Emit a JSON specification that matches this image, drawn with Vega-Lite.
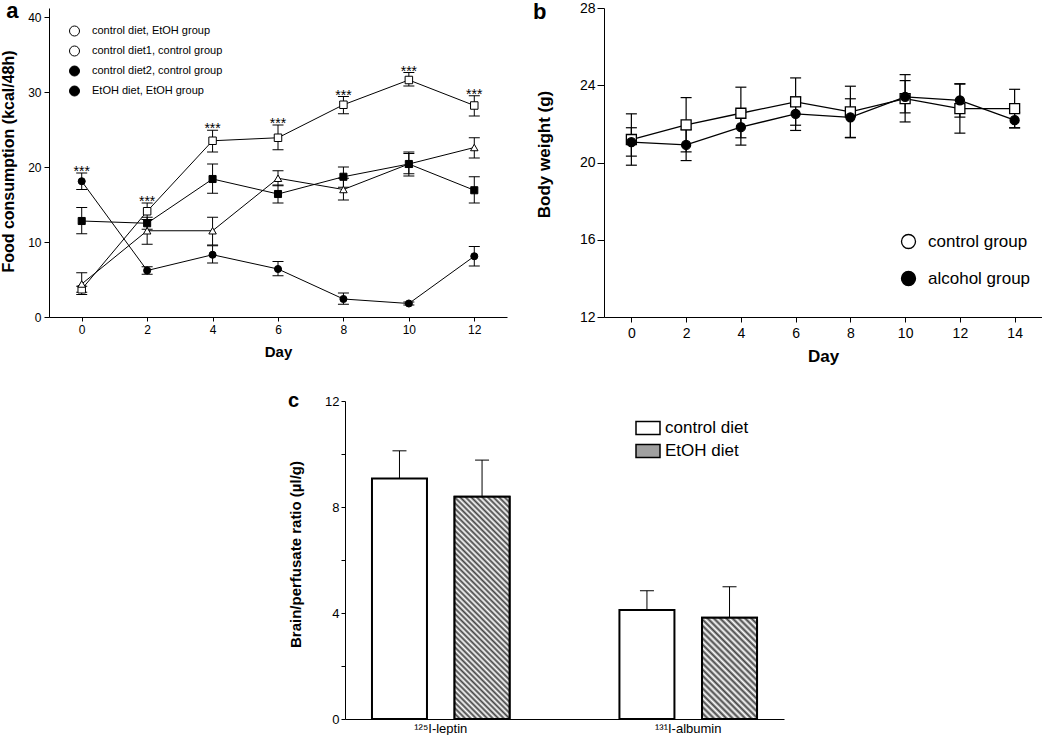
{
 "$schema": "https://vega.github.io/schema/vega-lite/v6.json",
 "background": "white",
 "padding": 0,
 "autosize": {"type": "pad"},
 "spacing": 27,
 "resolve": {"scale": {"shape": "independent", "fill": "independent", "color": "independent"}, "legend": {"shape": "independent", "fill": "independent"}},
 "datasets": {
  "food": [
   {"day":0,"grp":"control diet, EtOH group","v":3.7,"lo":3.3,"hi":4.1,"star":""},
   {"day":2,"grp":"control diet, EtOH group","v":14.1,"lo":13.0,"hi":15.2,"star":"***"},
   {"day":4,"grp":"control diet, EtOH group","v":23.5,"lo":22.0,"hi":24.9,"star":"***"},
   {"day":6,"grp":"control diet, EtOH group","v":23.9,"lo":22.3,"hi":25.6,"star":"***"},
   {"day":8,"grp":"control diet, EtOH group","v":28.3,"lo":27.1,"hi":29.4,"star":"***"},
   {"day":10,"grp":"control diet, EtOH group","v":31.6,"lo":30.8,"hi":32.6,"star":"***"},
   {"day":12,"grp":"control diet, EtOH group","v":28.2,"lo":26.8,"hi":29.5,"star":"***"},
   {"day":0,"grp":"control diet1, control group","v":4.4,"lo":3.0,"hi":5.9,"star":""},
   {"day":2,"grp":"control diet1, control group","v":11.5,"lo":9.7,"hi":13.0,"star":""},
   {"day":4,"grp":"control diet1, control group","v":11.5,"lo":9.6,"hi":13.3,"star":""},
   {"day":6,"grp":"control diet1, control group","v":18.5,"lo":17.5,"hi":19.5,"star":""},
   {"day":8,"grp":"control diet1, control group","v":17.0,"lo":15.6,"hi":18.5,"star":""},
   {"day":10,"grp":"control diet1, control group","v":20.4,"lo":18.8,"hi":22.0,"star":""},
   {"day":12,"grp":"control diet1, control group","v":22.6,"lo":21.2,"hi":23.9,"star":""},
   {"day":0,"grp":"control diet2, control group","v":12.8,"lo":11.1,"hi":14.6,"star":""},
   {"day":2,"grp":"control diet2, control group","v":12.5,"lo":11.7,"hi":13.3,"star":""},
   {"day":4,"grp":"control diet2, control group","v":18.4,"lo":16.5,"hi":20.4,"star":""},
   {"day":6,"grp":"control diet2, control group","v":16.4,"lo":15.2,"hi":17.6,"star":""},
   {"day":8,"grp":"control diet2, control group","v":18.7,"lo":17.3,"hi":20.0,"star":""},
   {"day":10,"grp":"control diet2, control group","v":20.4,"lo":19.1,"hi":21.8,"star":""},
   {"day":12,"grp":"control diet2, control group","v":16.9,"lo":15.2,"hi":18.7,"star":""},
   {"day":0,"grp":"EtOH diet, EtOH group","v":18.1,"lo":17.0,"hi":19.2,"star":"***"},
   {"day":2,"grp":"EtOH diet, EtOH group","v":6.2,"lo":5.7,"hi":6.7,"star":""},
   {"day":4,"grp":"EtOH diet, EtOH group","v":8.3,"lo":7.2,"hi":9.5,"star":""},
   {"day":6,"grp":"EtOH diet, EtOH group","v":6.4,"lo":5.5,"hi":7.4,"star":""},
   {"day":8,"grp":"EtOH diet, EtOH group","v":2.4,"lo":1.7,"hi":3.2,"star":""},
   {"day":10,"grp":"EtOH diet, EtOH group","v":1.8,"lo":1.6,"hi":2.0,"star":""},
   {"day":12,"grp":"EtOH diet, EtOH group","v":8.1,"lo":6.8,"hi":9.4,"star":""}
  ],
  "weight": [
   {"day":0,"grp":"control group","v":21.19,"lo":19.86,"hi":22.52},
   {"day":2,"grp":"control group","v":21.95,"lo":20.55,"hi":23.36},
   {"day":4,"grp":"control group","v":22.55,"lo":21.28,"hi":23.9},
   {"day":6,"grp":"control group","v":23.14,"lo":21.93,"hi":24.38},
   {"day":8,"grp":"control group","v":22.62,"lo":21.3,"hi":23.95},
   {"day":10,"grp":"control group","v":23.31,"lo":22.1,"hi":24.55},
   {"day":12,"grp":"control group","v":22.79,"lo":21.52,"hi":24.06},
   {"day":14,"grp":"control group","v":22.79,"lo":21.8,"hi":23.79},
   {"day":0,"grp":"alcohol group","v":21.05,"lo":20.33,"hi":21.8},
   {"day":2,"grp":"alcohol group","v":20.91,"lo":20.1,"hi":21.7},
   {"day":4,"grp":"alcohol group","v":21.83,"lo":20.9,"hi":22.7},
   {"day":6,"grp":"alcohol group","v":22.52,"lo":21.66,"hi":23.4},
   {"day":8,"grp":"alcohol group","v":22.34,"lo":21.28,"hi":23.3},
   {"day":10,"grp":"alcohol group","v":23.4,"lo":22.57,"hi":24.24},
   {"day":12,"grp":"alcohol group","v":23.22,"lo":22.35,"hi":24.08},
   {"day":14,"grp":"alcohol group","v":22.19,"lo":21.79,"hi":22.6}
  ],
  "ratio": [
   {"tracer":"¹²⁵I-leptin","diet":"control diet","v":9.08,"hi":10.12},
   {"tracer":"¹²⁵I-leptin","diet":"EtOH diet","v":8.39,"hi":9.77},
   {"tracer":"¹³¹I-albumin","diet":"control diet","v":4.11,"hi":4.84},
   {"tracer":"¹³¹I-albumin","diet":"EtOH diet","v":3.82,"hi":4.99}
  ]
 },
 "vconcat": [
  {
   "spacing": 26,
   "resolve": {"scale": {"shape": "independent", "fill": "independent", "color": "independent"}, "legend": {"shape": "independent", "fill": "independent"}},
   "hconcat": [
    {
     "width": 458, "height": 309,
     "data": {"name": "food"},
     "layer": [
      {
       "encoding": {"x": {"field": "day", "type": "quantitative", "title": "Day", "scale": {"domain": [-1, 13], "nice": false, "zero": false}, "axis": {"values": [0,1,2,3,4,5,6,7,8,9,10,11,12,13], "labelExpr": "datum.value % 2 === 0 ? datum.label : ''", "tickSize": 4, "labelFontSize": 12, "labelPadding": 3, "titleFontSize": 15, "titlePadding": 9}}},
       "layer": [
        {"mark": {"type": "line", "color": "black", "strokeWidth": 1}, "encoding": {"y": {"field": "v", "type": "quantitative", "title": "Food consumption (kcal/48h)", "scale": {"domain": [0, 41.2], "nice": false}, "axis": {"values": [0,10,20,30,40], "tickSize": 5, "labelPadding": 3, "labelFontSize": 12, "titleFontSize": 16, "titlePadding": 11, "titleY": 153}}, "detail": {"field": "grp", "type": "nominal"}, "order": {"field": "day", "type": "quantitative"}}},
        {"mark": {"type": "rule", "color": "black", "strokeWidth": 1}, "encoding": {"y": {"field": "lo", "type": "quantitative", "title": "Food consumption (kcal/48h)"}, "y2": {"field": "hi"}}},
        {"mark": {"type": "tick", "orient": "horizontal", "size": 11, "thickness": 1, "color": "black", "opacity": 1}, "encoding": {"y": {"field": "lo", "type": "quantitative", "title": "Food consumption (kcal/48h)"}}},
        {"mark": {"type": "tick", "orient": "horizontal", "size": 11, "thickness": 1, "color": "black", "opacity": 1}, "encoding": {"y": {"field": "hi", "type": "quantitative", "title": "Food consumption (kcal/48h)"}}},
        {"transform": [{"filter": "datum.grp === 'control diet, EtOH group'"}], "mark": {"type": "point", "shape": "square", "filled": true, "fill": "white", "stroke": "black", "strokeWidth": 1, "opacity": 1, "fillOpacity": 1, "size": 56}, "encoding": {"y": {"field": "v", "type": "quantitative", "title": "Food consumption (kcal/48h)"}}},
        {"transform": [{"filter": "datum.grp === 'control diet1, control group'"}], "mark": {"type": "point", "shape": "triangle-up", "filled": true, "fill": "white", "stroke": "black", "strokeWidth": 1, "opacity": 1, "fillOpacity": 1, "size": 56}, "encoding": {"y": {"field": "v", "type": "quantitative", "title": "Food consumption (kcal/48h)"}}},
        {"transform": [{"filter": "datum.grp === 'control diet2, control group'"}], "mark": {"type": "point", "shape": "square", "filled": true, "fill": "black", "stroke": "black", "strokeWidth": 1, "opacity": 1, "fillOpacity": 1, "size": 50}, "encoding": {"y": {"field": "v", "type": "quantitative", "title": "Food consumption (kcal/48h)"}}},
        {"transform": [{"filter": "datum.grp === 'EtOH diet, EtOH group'"}], "mark": {"type": "point", "shape": "circle", "stroke": "black", "strokeWidth": 1, "opacity": 1, "fillOpacity": 1, "size": 50}, "encoding": {
          "y": {"field": "v", "type": "quantitative", "title": "Food consumption (kcal/48h)"},
          "fill": {"field": "grp", "type": "nominal", "scale": {"domain": ["control diet, EtOH group", "control diet1, control group", "control diet2, control group", "EtOH diet, EtOH group"], "range": ["white", "white", "black", "black"]},
            "legend": {"title": null, "orient": "none", "legendX": 20, "legendY": 17.5, "padding": 0, "symbolSize": 100, "symbolStrokeWidth": 1, "symbolStrokeColor": "black", "labelFontSize": 11, "labelOffset": 12, "rowPadding": 5, "labelLimit": 400,
              "encode": {"symbols": {"update": {"stroke": {"value": "black"}, "strokeWidth": {"value": 1}, "opacity": {"value": 1},
                "shape": [{"test": "datum.label === 'control diet, EtOH group' || datum.label === 'control diet2, control group'", "value": "M-2.3,0H-0.75M0.75,0H2.3M-0.75,-0.75H0.75V0.75H-0.75Z"}, {"test": "datum.label === 'control diet1, control group'", "value": "M-2.3,0H-0.5M0.5,0H2.3M0,-0.85L0.85,0.65H-0.85Z"}, {"value": "M-2.3,0H2.3M0.7,0A0.7,0.7,0,1,1,-0.7,0A0.7,0.7,0,1,1,0.7,0Z"}]}}}}}
        }},
        {"mark": {"type": "text", "fontSize": 14, "baseline": "alphabetic", "dy": 3, "color": "black"}, "encoding": {"y": {"field": "hi", "type": "quantitative", "title": "Food consumption (kcal/48h)"}, "text": {"field": "star", "type": "nominal"}}}
       ]
      },
      {"data": {"values": [{"lab": "a"}]}, "mark": {"type": "text", "fontSize": 22, "fontWeight": "bold", "align": "left", "baseline": "top", "color": "black"}, "encoding": {"x": {"datum": -2.31, "type": "quantitative", "title": "Day"}, "y": {"datum": 42.13, "type": "quantitative", "title": "Food consumption (kcal/48h)"}, "text": {"field": "lab", "type": "nominal"}}}
     ]
    },
    {
     "width": 438, "height": 309,
     "data": {"name": "weight"},
     "layer": [
      {
       "encoding": {"x": {"field": "day", "type": "quantitative", "title": "Day", "scale": {"domain": [-1, 15], "nice": false, "zero": false}, "axis": {"values": [0,1,2,3,4,5,6,7,8,9,10,11,12,13,14,15], "labelExpr": "datum.value % 2 === 0 ? datum.label : ''", "tickSize": 5, "labelFontSize": 14, "labelPadding": 4, "titleFontSize": 17, "titlePadding": 8}}},
       "layer": [
        {"mark": {"type": "line", "color": "black", "strokeWidth": 1.3}, "encoding": {"y": {"field": "v", "type": "quantitative", "title": "Body weight (g)", "scale": {"domain": [12, 28], "nice": false, "zero": false}, "axis": {"values": [12,16,20,24,28], "tickSize": 7, "labelPadding": 2, "labelFontSize": 14, "titleFontSize": 17, "titlePadding": 26, "titleY": 146}}, "detail": {"field": "grp", "type": "nominal"}, "order": {"field": "day", "type": "quantitative"}}},
        {"mark": {"type": "rule", "color": "black", "strokeWidth": 1.2}, "encoding": {"y": {"field": "lo", "type": "quantitative", "title": "Body weight (g)"}, "y2": {"field": "hi"}}},
        {"mark": {"type": "tick", "orient": "horizontal", "size": 11, "thickness": 1.2, "color": "black", "opacity": 1}, "encoding": {"y": {"field": "lo", "type": "quantitative", "title": "Body weight (g)"}}},
        {"mark": {"type": "tick", "orient": "horizontal", "size": 11, "thickness": 1.2, "color": "black", "opacity": 1}, "encoding": {"y": {"field": "hi", "type": "quantitative", "title": "Body weight (g)"}}},
        {"transform": [{"filter": "datum.grp === 'control group'"}], "mark": {"type": "point", "shape": "square", "filled": true, "fill": "white", "stroke": "black", "strokeWidth": 1.3, "opacity": 1, "fillOpacity": 1, "size": 100}, "encoding": {"y": {"field": "v", "type": "quantitative", "title": "Body weight (g)"}}},
        {"transform": [{"filter": "datum.grp === 'alcohol group'"}], "mark": {"type": "point", "shape": "circle", "stroke": "black", "strokeWidth": 1.3, "opacity": 1, "fillOpacity": 1, "size": 81}, "encoding": {
          "y": {"field": "v", "type": "quantitative", "title": "Body weight (g)"},
          "fill": {"field": "grp", "type": "nominal", "scale": {"domain": ["control group", "alcohol group"], "range": ["white", "black"]},
            "legend": {"title": null, "orient": "none", "legendX": 296, "legendY": 225, "padding": 0, "symbolSize": 196, "symbolStrokeWidth": 1.3, "symbolStrokeColor": "black", "labelFontSize": 17, "labelOffset": 11, "rowPadding": 16,
              "encode": {"symbols": {"update": {"stroke": {"value": "black"}, "strokeWidth": {"value": 1.3}, "opacity": {"value": 1},
                "shape": [{"test": "datum.label === 'control group'", "value": "M-2.07,0H-0.64M0.64,0H2.07M-0.64,-0.64H0.64V0.64H-0.64Z"}, {"value": "M-2.07,0H2.07M0.6,0A0.6,0.6,0,1,1,-0.6,0A0.6,0.6,0,1,1,0.6,0Z"}]}}}}}
        }}
       ]
      },
      {"data": {"values": [{"lab": "b"}]}, "mark": {"type": "text", "fontSize": 22, "fontWeight": "bold", "align": "left", "baseline": "top", "color": "black"}, "encoding": {"x": {"datum": -3.59, "type": "quantitative", "title": "Day"}, "y": {"datum": 28.31, "type": "quantitative", "title": "Body weight (g)"}, "text": {"field": "lab", "type": "nominal"}}}
     ]
    }
   ]
  },
  {
   "spacing": 0,
   "resolve": {"scale": {"shape": "independent", "fill": "independent", "color": "independent"}, "legend": {"shape": "independent", "fill": "independent"}},
   "hconcat": [
    {"width": 238, "height": 1, "data": {"values": []}, "mark": "point", "encoding": {}},
    {
     "width": 439, "height": 318,
     "data": {"name": "ratio"},
     "resolve": {"scale": {"x": "independent"}, "axis": {"x": "independent"}},
     "layer": [
      {
       "encoding": {
        "x": {"field": "tracer", "type": "nominal", "scale": {"domain": ["¹²⁵I-leptin", "¹³¹I-albumin"], "paddingInner": 0.444, "paddingOuter": 0.109}, "axis": {"title": null, "labelAngle": 0, "ticks": false, "labelFontSize": 13, "labelPadding": 3}},
        "xOffset": {"field": "diet", "type": "nominal", "scale": {"domain": ["control diet", "EtOH diet"], "paddingInner": 0.334, "paddingOuter": 0}}
       },
       "layer": [
        {"mark": {"type": "bar", "stroke": "black", "strokeWidth": 2}, "encoding": {
          "y": {"field": "v", "type": "quantitative", "title": "Brain/perfusate ratio (µl/g)", "scale": {"domain": [0, 12], "nice": false}, "axis": {"values": [0,2,4,6,8,10,12], "labelExpr": "datum.value % 4 === 0 ? datum.label : ''", "tickSize": 4, "labelPadding": 2, "labelFontSize": 13, "titleFontSize": 15, "titlePadding": 21, "titleY": 153}},
          "fill": {"field": "diet", "type": "nominal", "scale": {"domain": ["control diet", "EtOH diet"], "range": ["white", "#a0a0a0"]},
            "legend": {"title": null, "orient": "none", "legendX": 290, "legendY": 14, "padding": 0, "symbolSize": 576, "symbolStrokeWidth": 1.5, "symbolStrokeColor": "black", "labelFontSize": 17, "labelOffset": 4, "rowPadding": -1,
              "encode": {"symbols": {"update": {"stroke": {"value": "black"}, "strokeWidth": {"value": 1.5}, "shape": {"value": "M-1,-0.54H1V0.54H-1Z"}, "fill": [{"test": "datum.label === 'EtOH diet'", "value": {"gradient": "linear", "x1": 0, "y1": 1, "x2": 1.192, "y2": 0.3543, "stops": [{"offset":0,"color":"#444"},{"offset":0.075,"color":"#fff"},{"offset":0.15,"color":"#444"},{"offset":0.225,"color":"#fff"},{"offset":0.3,"color":"#444"},{"offset":0.375,"color":"#fff"},{"offset":0.45,"color":"#444"},{"offset":0.525,"color":"#fff"},{"offset":0.6,"color":"#444"},{"offset":0.675,"color":"#fff"},{"offset":0.75,"color":"#444"},{"offset":0.825,"color":"#fff"},{"offset":0.9,"color":"#444"},{"offset":0.975,"color":"#fff"},{"offset":1,"color":"#aaa"}]}}, {"value": "white"}]}}}}}
        }},
        {"transform": [{"filter": "datum.diet === 'EtOH diet' && indexof(datum.tracer, 'leptin') >= 0"}],
         "mark": {"type": "bar", "stroke": "black", "strokeWidth": 2, "fill": {"gradient": "linear", "x1": 0, "y1": 1, "x2": 0.2908, "y2": -0.1754, "stops": [{"offset":0,"color":"#444"},{"offset":0.01,"color":"#fff"},{"offset":0.02,"color":"#444"},{"offset":0.03,"color":"#fff"},{"offset":0.04,"color":"#444"},{"offset":0.05,"color":"#fff"},{"offset":0.06,"color":"#444"},{"offset":0.07,"color":"#fff"},{"offset":0.08,"color":"#444"},{"offset":0.09,"color":"#fff"},{"offset":0.1,"color":"#444"},{"offset":0.11,"color":"#fff"},{"offset":0.12,"color":"#444"},{"offset":0.13,"color":"#fff"},{"offset":0.14,"color":"#444"},{"offset":0.15,"color":"#fff"},{"offset":0.16,"color":"#444"},{"offset":0.17,"color":"#fff"},{"offset":0.18,"color":"#444"},{"offset":0.19,"color":"#fff"},{"offset":0.2,"color":"#444"},{"offset":0.21,"color":"#fff"},{"offset":0.22,"color":"#444"},{"offset":0.23,"color":"#fff"},{"offset":0.24,"color":"#444"},{"offset":0.25,"color":"#fff"},{"offset":0.26,"color":"#444"},{"offset":0.27,"color":"#fff"},{"offset":0.28,"color":"#444"},{"offset":0.29,"color":"#fff"},{"offset":0.3,"color":"#444"},{"offset":0.31,"color":"#fff"},{"offset":0.32,"color":"#444"},{"offset":0.33,"color":"#fff"},{"offset":0.34,"color":"#444"},{"offset":0.35,"color":"#fff"},{"offset":0.36,"color":"#444"},{"offset":0.37,"color":"#fff"},{"offset":0.38,"color":"#444"},{"offset":0.39,"color":"#fff"},{"offset":0.4,"color":"#444"},{"offset":0.41,"color":"#fff"},{"offset":0.42,"color":"#444"},{"offset":0.43,"color":"#fff"},{"offset":0.44,"color":"#444"},{"offset":0.45,"color":"#fff"},{"offset":0.46,"color":"#444"},{"offset":0.47,"color":"#fff"},{"offset":0.48,"color":"#444"},{"offset":0.49,"color":"#fff"},{"offset":0.5,"color":"#444"},{"offset":0.51,"color":"#fff"},{"offset":0.52,"color":"#444"},{"offset":0.53,"color":"#fff"},{"offset":0.54,"color":"#444"},{"offset":0.55,"color":"#fff"},{"offset":0.56,"color":"#444"},{"offset":0.57,"color":"#fff"},{"offset":0.58,"color":"#444"},{"offset":0.59,"color":"#fff"},{"offset":0.6,"color":"#444"},{"offset":0.61,"color":"#fff"},{"offset":0.62,"color":"#444"},{"offset":0.63,"color":"#fff"},{"offset":0.64,"color":"#444"},{"offset":0.65,"color":"#fff"},{"offset":0.66,"color":"#444"},{"offset":0.67,"color":"#fff"},{"offset":0.68,"color":"#444"},{"offset":0.69,"color":"#fff"},{"offset":0.7,"color":"#444"},{"offset":0.71,"color":"#fff"},{"offset":0.72,"color":"#444"},{"offset":0.73,"color":"#fff"},{"offset":0.74,"color":"#444"},{"offset":0.75,"color":"#fff"},{"offset":0.76,"color":"#444"},{"offset":0.77,"color":"#fff"},{"offset":0.78,"color":"#444"},{"offset":0.79,"color":"#fff"},{"offset":0.8,"color":"#444"},{"offset":0.81,"color":"#fff"},{"offset":0.82,"color":"#444"},{"offset":0.83,"color":"#fff"},{"offset":0.84,"color":"#444"},{"offset":0.85,"color":"#fff"},{"offset":0.86,"color":"#444"},{"offset":0.87,"color":"#fff"},{"offset":0.88,"color":"#444"},{"offset":0.89,"color":"#fff"},{"offset":0.9,"color":"#444"},{"offset":0.91,"color":"#fff"},{"offset":0.92,"color":"#444"},{"offset":0.93,"color":"#fff"},{"offset":0.94,"color":"#444"},{"offset":0.95,"color":"#fff"},{"offset":0.96,"color":"#444"},{"offset":0.97,"color":"#fff"},{"offset":0.98,"color":"#444"},{"offset":0.99,"color":"#fff"},{"offset":1,"color":"#444"}]}},
         "encoding": {"y": {"field": "v", "type": "quantitative", "title": "Brain/perfusate ratio (µl/g)"}}},
        {"transform": [{"filter": "datum.diet === 'EtOH diet' && indexof(datum.tracer, 'albumin') >= 0"}],
         "mark": {"type": "bar", "stroke": "black", "strokeWidth": 2, "fill": {"gradient": "linear", "x1": 0, "y1": 1, "x2": 0.6475, "y2": -0.1914, "stops": [{"offset":0,"color":"#444"},{"offset":0.02,"color":"#fff"},{"offset":0.04,"color":"#444"},{"offset":0.06,"color":"#fff"},{"offset":0.08,"color":"#444"},{"offset":0.1,"color":"#fff"},{"offset":0.12,"color":"#444"},{"offset":0.14,"color":"#fff"},{"offset":0.16,"color":"#444"},{"offset":0.18,"color":"#fff"},{"offset":0.2,"color":"#444"},{"offset":0.22,"color":"#fff"},{"offset":0.24,"color":"#444"},{"offset":0.26,"color":"#fff"},{"offset":0.28,"color":"#444"},{"offset":0.3,"color":"#fff"},{"offset":0.32,"color":"#444"},{"offset":0.34,"color":"#fff"},{"offset":0.36,"color":"#444"},{"offset":0.38,"color":"#fff"},{"offset":0.4,"color":"#444"},{"offset":0.42,"color":"#fff"},{"offset":0.44,"color":"#444"},{"offset":0.46,"color":"#fff"},{"offset":0.48,"color":"#444"},{"offset":0.5,"color":"#fff"},{"offset":0.52,"color":"#444"},{"offset":0.54,"color":"#fff"},{"offset":0.56,"color":"#444"},{"offset":0.58,"color":"#fff"},{"offset":0.6,"color":"#444"},{"offset":0.62,"color":"#fff"},{"offset":0.64,"color":"#444"},{"offset":0.66,"color":"#fff"},{"offset":0.68,"color":"#444"},{"offset":0.7,"color":"#fff"},{"offset":0.72,"color":"#444"},{"offset":0.74,"color":"#fff"},{"offset":0.76,"color":"#444"},{"offset":0.78,"color":"#fff"},{"offset":0.8,"color":"#444"},{"offset":0.82,"color":"#fff"},{"offset":0.84,"color":"#444"},{"offset":0.86,"color":"#fff"},{"offset":0.88,"color":"#444"},{"offset":0.9,"color":"#fff"},{"offset":0.92,"color":"#444"},{"offset":0.94,"color":"#fff"},{"offset":0.96,"color":"#444"},{"offset":0.98,"color":"#fff"},{"offset":1,"color":"#444"}]}},
         "encoding": {"y": {"field": "v", "type": "quantitative", "title": "Brain/perfusate ratio (µl/g)"}}},
        {"mark": {"type": "rule", "color": "black", "strokeWidth": 1}, "encoding": {"y": {"field": "v", "type": "quantitative", "title": "Brain/perfusate ratio (µl/g)"}, "y2": {"field": "hi"}}},
        {"mark": {"type": "tick", "orient": "horizontal", "size": 14, "thickness": 1, "color": "black", "opacity": 1}, "encoding": {"y": {"field": "hi", "type": "quantitative", "title": "Brain/perfusate ratio (µl/g)"}}}
       ]
      },
      {"data": {"values": [{"lab": "c"}]}, "mark": {"type": "text", "fontSize": 20, "fontWeight": "bold", "align": "left", "baseline": "alphabetic", "color": "black"}, "encoding": {"x": {"datum": -0.13, "type": "quantitative", "scale": {"domain": [0, 1]}, "axis": null}, "y": {"datum": 11.76, "type": "quantitative", "title": "Brain/perfusate ratio (µl/g)"}, "text": {"field": "lab", "type": "nominal"}}}
     ]
    }
   ]
  }
 ],
 "config": {
  "view": {"stroke": null},
  "font": "Liberation Sans",
  "axis": {"domainColor": "#000", "tickColor": "#000", "labelColor": "#000", "titleColor": "#000", "grid": false, "domainWidth": 1, "tickWidth": 1, "titleFontWeight": "bold", "labelFont": "Liberation Sans", "titleFont": "Liberation Sans"},
  "legend": {"labelColor": "#000", "labelFont": "Liberation Sans"},
  "title": {"color": "#000", "fontWeight": "bold", "font": "Liberation Sans"}
 }
}
